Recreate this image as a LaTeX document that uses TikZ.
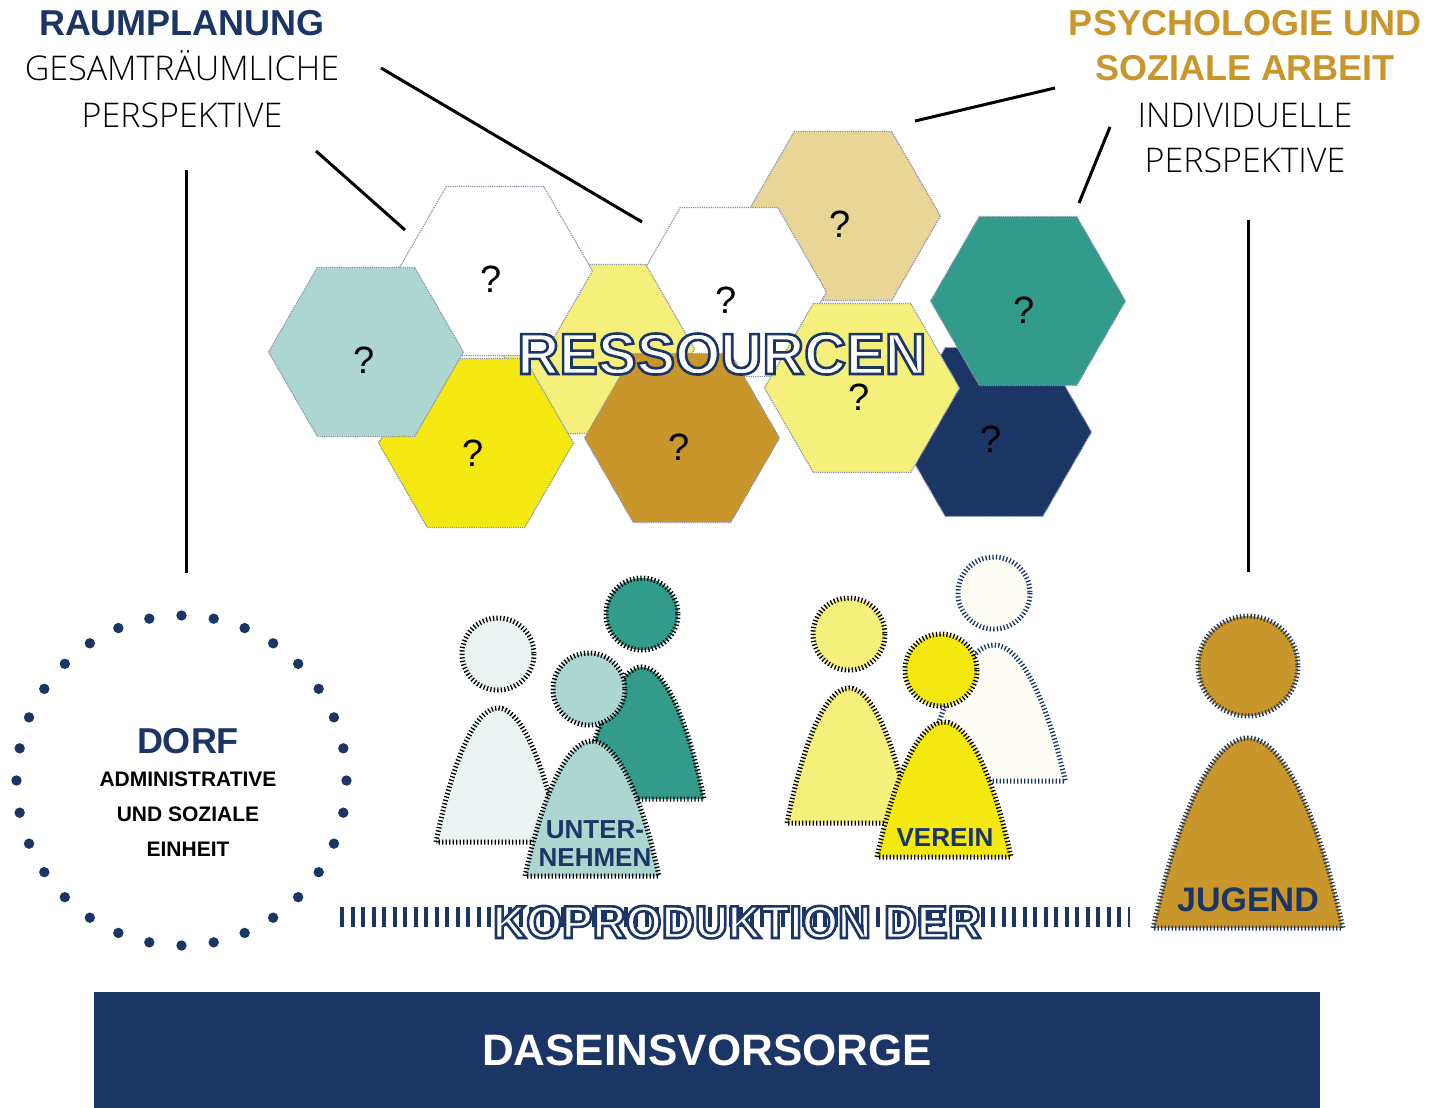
\documentclass[tikz,border=0pt]{standalone}
\usepackage{fontspec}
\setmainfont{Liberation Sans}
\newfontfamily\lightfont{Open Sans Light}
\usepackage{xcolor}
\usetikzlibrary{shapes.geometric}
\definecolor{navy}{HTML}{1B3564}
\definecolor{gold}{HTML}{C8962A}
\definecolor{beige}{HTML}{E9D596}
\definecolor{paleyellow}{HTML}{F5EF7B}
\definecolor{brightyellow}{HTML}{F4E811}
\definecolor{seagreen}{HTML}{339B8B}
\definecolor{lightsea}{HTML}{AED6D1}
\definecolor{palesea}{HTML}{EBF4F2}
\definecolor{ivory}{HTML}{FDFDF5}
\definecolor{hexline}{HTML}{8A93AD}
% umrandete Schrift
\newcommand{\outlined}[1]{\color{white}\special{pdf:code 2 Tr 2.6 w 0.106 0.208 0.392 RG}#1\special{pdf:code 0 Tr}}
\begin{document}
\begin{tikzpicture}[
					x=1pt, y=-1pt,
					hexa/.style={
						regular polygon, regular polygon sides=6, minimum size=195pt,
						inner sep=0pt, draw=hexline, line width=1.2pt, densely dotted
					},
					quest/.style={
						font=\fontsize{38}{38}\selectfont, anchor=base, inner sep=0pt
					},
					strich/.style={
						line width=3pt, black
					},
					hatched/.style={
						line width=5pt, dash pattern=on 1.3pt off 2.2pt
					},
					title/.style={
						font=\fontsize{36}{36}\selectfont\bfseries, anchor=base, inner sep=0pt
					},
					subtitle/.style={
						font=\fontsize{34}{34}\selectfont\lightfont, anchor=base, inner sep=0pt
					},
					small/.style={
						font=\fontsize{21}{21}\selectfont\bfseries, anchor=base, inner sep=0pt
					},
					grouplabel/.style={
						font=\fontsize{26}{26}\selectfont\bfseries, text=navy, anchor=base, inner sep=0pt
					}
					]
					\useasboundingbox (0,0) rectangle (1433,1108);
					
					% Waben
					\foreach \nm/\x/\y/\col/\qx/\qy in {
						beige/843/216/beige/840/237,
						whiteb/729/292/white/726/313,
						paleb/597/349/paleyellow/597/349,
						whitea/495/271/white/491/292,
						yellow/476/443/brightyellow/473/466,
						sea/366/352/lightsea/364/373,
						brown/682/438/gold/679/460,
						navy/994/432/navy/991/452,
						palea/862/388/paleyellow/859/410,
						green/1028/301/seagreen/1024/323} {
						\node[hexa, fill=\col] (hex-\nm) at (\x,\y) {};
						\ifx\nm\empty\else\fi
						\def\tmp{paleb}\ifx\nm\tmp\else
						\node[quest] (q-\nm) at (\qx,\qy) {?};
						\fi
					}
					\node[font=\fontsize{58}{58}\selectfont\bfseries, anchor=base, inner sep=0pt] (ressourcen) at (722,374) {\outlined{RESSOURCEN}};
					
					% Linien
					\coordinate (raum-a) at (381,68);
					\coordinate (raum-b) at (642,222);
					\coordinate (raum-c) at (316,151);
					\coordinate (raum-d) at (405,230);
					\coordinate (raum-e) at (186,170);
					\coordinate (raum-f) at (186,573);
					\coordinate (psy-a) at (915,121);
					\coordinate (psy-b) at (1055,88);
					\coordinate (psy-c) at (1110,127);
					\coordinate (psy-d) at (1079,203);
					\coordinate (psy-e) at (1248,220);
					\coordinate (psy-f) at (1248,572);
					\draw[strich] (raum-a) -- (raum-b);
					\draw[strich] (raum-c) -- (raum-d);
					\draw[strich] (raum-e) -- (raum-f);
					\draw[strich] (psy-a) -- (psy-b);
					\draw[strich] (psy-c) -- (psy-d);
					\draw[strich] (psy-e) -- (psy-f);
					
					% Titel
					\node[title, text=navy] (raum) at (182,36) {RAUMPLANUNG};
					\node[subtitle] (raum-1) at (182,81) {GESAMTRÄUMLICHE};
					\node[subtitle] (raum-2) at (182,127) {PERSPEKTIVE};
					\node[title, text=gold] (psy-1) at (1245,36) {PSYCHOLOGIE UND};
					\node[title, text=gold] (psy-2) at (1245,81) {SOZIALE ARBEIT};
					\node[subtitle] (psy-3) at (1245,127) {INDIVIDUELLE};
					\node[subtitle] (psy-4) at (1245,172) {PERSPEKTIVE};
					
					% Dorf
					\foreach \i in {1,...,32} {
						\fill[navy] (181.5,780.5) ++({\i*11.25}:165) circle (5.2);
					}
					\node[title, text=navy] (dorf) at (188,753) {DORF};
					\node[small] (dorf-1) at (188,786) {ADMINISTRATIVE};
					\node[small] (dorf-2) at (188,821) {UND SOZIALE};
					\node[small] (dorf-3) at (188,856) {EINHEIT};
					
					% Personen
					\foreach \hx/\hy/\hr/\ax/\ay/\sx/\sy/\by/\col/\tick in {
						498/654/36/498/708/1/1/842/palesea/black,
						642/614/36/642/667/1/1/799/seagreen/black,
						589/689/36/592/741/1.08/1/876/lightsea/black,
						849/634/36/849/688/1/1/823/paleyellow/black,
						994/593/36/994/645/1.15/1/781/ivory/navy,
						941/670/36/944/722/1.08/1/857/brightyellow/black,
						1248/666/50/1248/738/1.53/1.42/928/gold/navy} {
						\draw[hatched, fill=\col, draw=\tick] (\ax,\by)
							++({-62*\sx},0) .. controls ({\ax-45*\sx},{\ay+50*\sy}) and ({\ax-22*\sx},\ay) .. (\ax,\ay)
							.. controls ({\ax+22*\sx},\ay) and ({\ax+45*\sx},{\ay+50*\sy}) .. ({\ax+62*\sx},\by) -- cycle;
						\draw[hatched, fill=\col, draw=\tick] (\hx,\hy) circle (\hr);
					}
					\node[grouplabel] (unter-1) at (595,838) {UNTER-};
					\node[grouplabel] (unter-2) at (595,866) {NEHMEN};
					\node[grouplabel] (verein) at (945,846) {VEREIN};
					\node[font=\fontsize{34}{34}\selectfont\bfseries, text=navy, anchor=base, inner sep=0pt] (jugend) at (1248,911) {JUGEND};
					
					% Koproduktion
					\coordinate (kopro-a) at (340,917);
					\coordinate (kopro-b) at (1130,917);
					\draw[navy, line width=20pt, dash pattern=on 4pt off 6.5pt] (kopro-a) -- (kopro-b);
					\node[font=\fontsize{46}{46}\selectfont\bfseries, anchor=base, inner sep=0pt] (kopro) at (737,938) {\outlined{KOPRODUKTION DER}};
					
					% Daseinsvorsorge
					\node[fill=navy, minimum width=1226pt, minimum height=116pt, inner sep=0pt, text=white, font=\fontsize{44}{44}\selectfont\bfseries] (dasein) at (707,1050) {DASEINSVORSORGE};
				\end{tikzpicture}
\end{document}
